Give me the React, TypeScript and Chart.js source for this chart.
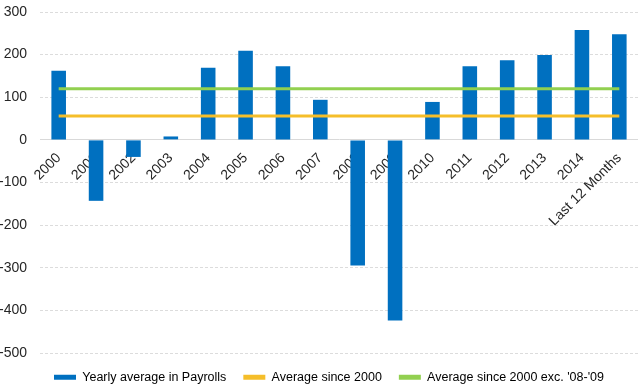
import React, { useEffect, useRef } from "react";
import { Chart, registerables } from "chart.js";

Chart.register(...registerables);

const categories = ["2000", "2001", "2002", "2003", "2004", "2005", "2006", "2007", "2008", "2009", "2010", "2011", "2012", "2013", "2014", "Last 12 Months"];
const payrolls = [162, -143, -40, 8, 169, 209, 173, 94, -295, -424, 89, 173, 187, 199, 258, 248];
const avgSince2000 = [56, 56, 56, 56, 56, 56, 56, 56, 56, 56, 56, 56, 56, 56, 56, 56];
const avgExcl0809 = [120, 120, 120, 120, 120, 120, 120, 120, 120, 120, 120, 120, 120, 120, 120, 120];
const yMin = -500;
const yMax = 300;
const yStep = 100;

const BLUE = "#0070C0";
const YELLOW = "#F5BE2A";
const GREEN = "#92D050";
const FONT = "'Liberation Sans', Arial, sans-serif";

const legendTweak = {
  id: "legendTweak",
  beforeLayout(chart: any) {
    const lg = chart.legend;
    if (lg && !lg.__patched) {
      const orig = lg.fit;
      lg.fit = function (this: any) {
        orig.call(this);
        this.height = 37;
      };
      lg.__patched = true;
    }
  },
  afterLayout(chart: any) {
    const lg = chart.legend;
    if (lg) {
      lg.left += 20;
      lg.top += 1;
      lg.bottom += 1;
    }
  },
};

export default function App() {
  const ref = useRef<HTMLCanvasElement | null>(null);
  useEffect(() => {
    if (!ref.current) return;
    const chart = new Chart(ref.current, {
      type: "bar",
      data: {
        labels: categories,
        datasets: [
          {
            type: "bar",
            label: "Yearly average in Payrolls",
            data: payrolls,
            backgroundColor: BLUE,
            borderWidth: 0,
            barPercentage: 0.39,
            categoryPercentage: 1,
            order: 2,
          },
          {
            type: "line",
            label: "Average since 2000",
            data: avgSince2000,
            borderColor: YELLOW,
            backgroundColor: YELLOW,
            borderWidth: 3,
            pointRadius: 0,
            order: 1,
          },
          {
            type: "line",
            label: "Average since 2000 exc. '08-'09",
            data: avgExcl0809,
            borderColor: GREEN,
            backgroundColor: GREEN,
            borderWidth: 3,
            pointRadius: 0,
            order: 0,
          },
        ],
      },
      plugins: [legendTweak],
      options: {
        animation: false,
        responsive: false,
        maintainAspectRatio: false,
        layout: { padding: { top: 12, right: 0, left: 0, bottom: 0 } },
        plugins: {
          tooltip: { enabled: false },
          legend: {
            position: "bottom",
            labels: {
              boxWidth: 22,
              boxHeight: 5,
              padding: 17,
              color: "#262626",
              font: { family: FONT, size: 12.5 },
              generateLabels: (c: any) =>
                c.data.datasets.map((ds: any, i: number) => ({
                  text: ds.label,
                  fillStyle: ds.type === "bar" ? ds.backgroundColor : ds.borderColor,
                  strokeStyle: ds.type === "bar" ? ds.backgroundColor : ds.borderColor,
                  lineWidth: 0,
                  hidden: false,
                  datasetIndex: i,
                })),
            },
          },
        },
        scales: {
          x: {
            position: { y: 0 } as any,
            grid: { display: false },
            border: { display: true, color: "#d9d9d9", width: 1 },
            afterFit: (s: any) => {
              s.paddingLeft = 0;
              s.paddingRight = 0;
            },
            ticks: {
              autoSkip: false,
              maxRotation: 45,
              minRotation: 45,
              padding: 2,
              color: "#262626",
              font: { family: FONT, size: 14 },
            },
          },
          y: {
            min: yMin,
            max: yMax,
            grid: { color: "#dcdcdc", drawTicks: false },
            border: { display: false, dash: [3, 2] },
            afterFit: (s: any) => {
              s.width = 40;
              s.paddingTop = 0;
              s.paddingBottom = 0;
            },
            ticks: {
              stepSize: yStep,
              padding: 13,
              color: "#262626",
              font: { family: FONT, size: 14 },
            },
          },
        },
      },
    });
    return () => chart.destroy();
  }, []);
  return (
    <div style={{ position: "fixed", left: 0, top: 0, width: 638, height: 390, background: "#fff" }}>
      <canvas ref={ref} width={638} height={390} style={{ width: 638, height: 390 }} />
    </div>
  );
}
